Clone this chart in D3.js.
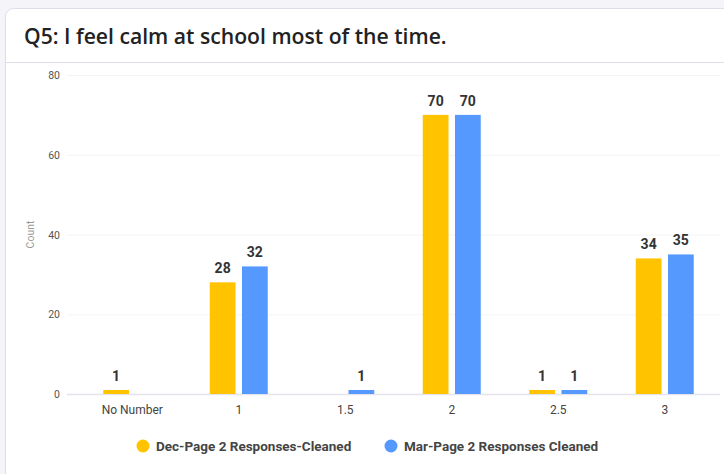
<!DOCTYPE html>
<html><head><meta charset="utf-8">
<script src="https://cdn.jsdelivr.net/npm/d3@7"></script>
<style>
html,body{margin:0;padding:0;background:#f4f4f9;}
svg{display:block;}
</style></head>
<body>
<svg id="c" width="724" height="474"></svg>
<script>
const categories = ["No Number", "1", "1.5", "2", "2.5", "3"];
const seriesNames = ["Dec-Page 2 Responses-Cleaned", "Mar-Page 2 Responses Cleaned"];
const decValues = [1, 28, null, 70, 1, 34];
const marValues = [null, 32, 1, 70, 1, 35];
const yTicks = [0, 20, 40, 60, 80];
const colors = ["#ffc300", "#5599ff"];
const title = "Q5: I feel calm at school most of the time.";

const svg = d3.select("#c");
// card
svg.append("rect").attr("x",5.5).attr("y",8.5).attr("width",740).attr("height",480)
  .attr("rx",8).attr("fill","#fff").attr("stroke","#dcdfeb");
svg.append("line").attr("x1",6).attr("x2",724).attr("y1",62.5).attr("y2",62.5).attr("stroke","#dcdfeb");
const t = svg.append("text").attr("x",24).attr("y",44).text(title)
  .attr("font-family","'Open Sans', sans-serif").attr("font-size",20).attr("font-weight",600).attr("fill","#222");
const tl = t.node().getComputedTextLength();
t.attr("font-size", 20*423/tl);

const y = d3.scaleLinear().domain([0,80]).range([394,75]);
const x0 = d3.scaleBand().domain(categories).range([79,718]).paddingInner(0);
const x1 = d3.scaleBand().domain([0,1]).range([-29,29]).paddingInner(0.2);

// grid
const g = svg.append("g");
g.selectAll(".grid").data(yTicks).join("line")
  .attr("x1",67).attr("x2",720).attr("y1",d=>y(d)+0.5).attr("y2",d=>y(d)+0.5)
  .attr("stroke",d=>d===0?"#e4e4ee":"#f3f4f4").attr("stroke-width",d=>d===0?1.5:1);
g.selectAll(".yt").data(yTicks).join("text")
  .attr("x",60).attr("y",d=>y(d)+4).attr("text-anchor","end").text(d=>d)
  .attr("font-family","Roboto, sans-serif").attr("font-size",10.5).attr("fill","#555");
svg.append("text").attr("transform",`translate(34,${y(40)}) rotate(-90)`).attr("text-anchor","middle")
  .text("Count").attr("font-family","Roboto, sans-serif").attr("font-size",10.5).attr("fill","#999");

// x labels
g.selectAll(".xt").data(categories).join("text")
  .attr("x",d=>x0(d)+x0.bandwidth()/2).attr("y",414).attr("text-anchor","middle").text(d=>d)
  .attr("font-family","Roboto, sans-serif").attr("font-size",12).attr("fill","#444");

const series = [decValues, marValues];
series.forEach((vals,si)=>{
  const data = categories.map((c,i)=>({c,v:vals[i]})).filter(d=>d.v!==null);
  const cx = d=>x0(d.c)+x0.bandwidth()/2 + x1(si);
  svg.selectAll(".b"+si).data(data).join("rect")
    .attr("x",cx).attr("width",x1.bandwidth())
    .attr("y",d=>y(d.v)).attr("height",d=>y(0)-y(d.v)).attr("fill",colors[si]);
  svg.selectAll(".l"+si).data(data).join("text")
    .attr("x",d=>cx(d)+x1.bandwidth()/2).attr("y",d=>y(d.v)-9).attr("text-anchor","middle")
    .text(d=>d.v).attr("font-family","Roboto, sans-serif").attr("font-size",14).attr("font-weight",700).attr("fill","#333");
});

// legend
const legX = [143, 391];
seriesNames.forEach((n,i)=>{
  svg.append("circle").attr("cx",legX[i]).attr("cy",446).attr("r",6.5).attr("fill",colors[i]);
  svg.append("text").attr("x",legX[i]+13).attr("y",451).text(n)
    .attr("font-family","Roboto, sans-serif").attr("font-size",13.5).attr("font-weight",700).attr("fill","#444");
});
</script>
</body></html>
